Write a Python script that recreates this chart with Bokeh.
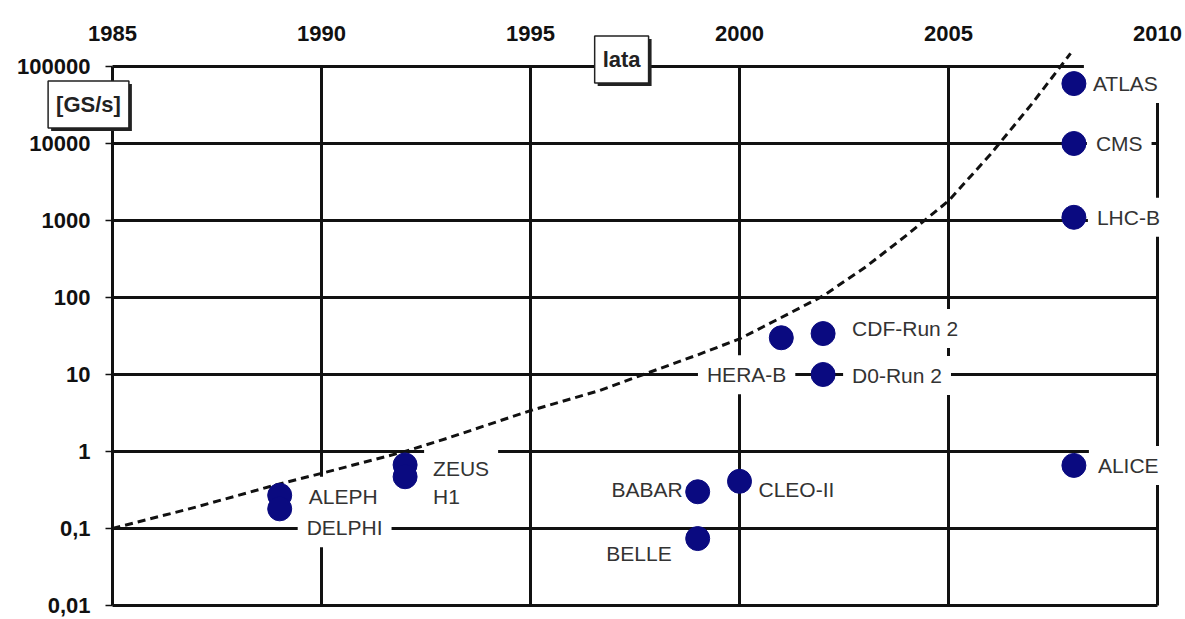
import math
from bokeh.plotting import figure
from bokeh.models import Range1d
from bokeh.core.properties import value
from bokeh.embed import file_html
from bokeh.resources import INLINE

# ---- data ----
experiments = ["ALEPH", "DELPHI", "ZEUS", "H1", "BABAR", "BELLE", "CLEO-II",
               "HERA-B", "CDF-Run 2", "D0-Run 2", "ATLAS", "CMS", "LHC-B", "ALICE"]
years = [1989, 1989, 1992, 1992, 1999, 1999, 2000, 2001, 2002, 2002, 2008, 2008, 2008, 2008]
rates = [0.27, 0.18, 0.67, 0.47, 0.30, 0.074, 0.41, 30, 34, 10, 60000, 10000, 1100, 0.66]

trend_years = [1985, 1987, 1989, 1990, 1992, 1993, 1995, 1996.66, 1997.7, 1999, 2000,
               2001, 2002, 2003, 2004, 2005, 2006, 2007, 2007.92]
trend_rates = [0.1, 0.19, 0.38, 0.52, 1.0, 1.48, 3.4, 6.2, 10, 18, 29,
               55, 105, 245, 645, 1800, 7200, 33000, 148000]

year_ticks = [1985, 1990, 1995, 2000, 2005, 2010]
year_tick_labels = ["1985", "1990", "1995", "2000", "2005", "2010"]
rate_ticks = [0.01, 0.1, 1, 10, 100, 1000, 10000, 100000]
rate_tick_labels = ["0,01", "0,1", "1", "10", "100", "1000", "10000", "100000"]

# ---- layout / styling ----
W, H = 1185, 619
PLOT_L, PLOT_R = 112, 1157      # pixel columns of first / last year tick
PLOT_T, PLOT_B = 66, 605        # pixel rows of top / bottom rate tick
PAD = 9
label_dx = [29, 27, 28, 28, -15, -26, 19, 5, 29, 29, 19, 22, 23, 24]
label_dy = [1, 19, 4, 20, -2, 15, 8, 37, -5, 1, 0, 0, 0, 0]
label_align = ["left", "left", "left", "left", "right", "right", "left",
               "right", "left", "left", "left", "left", "left", "left"]
label_dx = [d - PAD if a == "left" else d + PAD for d, a in zip(label_dx, label_align)]

FONT = "Liberation Sans"
INK = "#111111"

# ranges so that the ticks land on the same pixels as in the original figure
ppy = (PLOT_R - PLOT_L) / (year_ticks[-1] - year_ticks[0])
x0 = year_ticks[0] - PLOT_L / ppy
x1 = year_ticks[-1] + (W - PLOT_R) / ppy
lo, hi = math.log10(rate_ticks[0]), math.log10(rate_ticks[-1])
ppd = (PLOT_B - PLOT_T) / (hi - lo)
y0 = 10 ** (lo - (H - PLOT_B) / ppd)
y1 = 10 ** (hi + PLOT_T / ppd)

p = figure(width=W, height=H, y_axis_type="log",
           x_range=Range1d(x0, x1), y_range=Range1d(y0, y1),
           output_backend="svg", toolbar_location=None,
           min_border=0, min_border_left=0, min_border_right=0,
           min_border_top=0, min_border_bottom=0)
p.axis.visible = False
p.xgrid.visible = False
p.ygrid.visible = False
p.outline_line_color = None
p.background_fill_color = "white"
p.border_fill_color = "white"

# grid lines drawn from the tick arrays
p.segment(x0=year_ticks, x1=year_ticks, y0=[rate_ticks[0]] * len(year_ticks),
          y1=[rate_ticks[-1]] * len(year_ticks), line_color=INK, line_width=3)
p.segment(x0=[year_ticks[0]] * len(rate_ticks), x1=[year_ticks[-1]] * len(rate_ticks),
          y0=rate_ticks, y1=rate_ticks, line_color=INK, line_width=3)

# left tick marks
p.ray(x=[year_ticks[0]] * len(rate_ticks), y=rate_ticks, length=7,
      length_units="screen", angle=math.pi, line_color=INK, line_width=1.5)

# tick labels
p.text(x=[year_ticks[0]] * len(rate_ticks), y=rate_ticks, text=rate_tick_labels,
       x_offset=-22, text_align="right", text_baseline="middle",
       text_font=value(FONT), text_font_style="bold", text_font_size="22px", text_color=INK)
p.text(x=year_ticks, y=[rate_ticks[-1]] * len(year_ticks), text=year_tick_labels,
       y_offset=-33, text_align="center", text_baseline="middle",
       text_font=value(FONT), text_font_style="bold", text_font_size="22px", text_color=INK)

# experiment labels with white boxes hiding the grid behind them
p.text(x=years, y=rates, text=experiments, x_offset=label_dx, y_offset=label_dy,
       text_align=label_align, text_baseline="middle", text_font=value(FONT),
       text_font_size="21px", text_color="#333333",
       background_fill_color="white", padding=dict(left=PAD, right=PAD, top=8, bottom=8))

# trend curve
p.line(trend_years, trend_rates, line_color=INK, line_width=3, line_dash="8 5")

# experiments
p.scatter(x=years, y=rates, size=24, fill_color="#0a0a80", line_color="#0a0a80")

# boxed captions with shadows
def boxed(text, x, y, dx, dy):
    pad = dict(left=8, right=8, top=11, bottom=11)
    p.text(x=[x], y=[y], text=[text], x_offset=dx + 3, y_offset=dy + 3,
           text_align="center", text_baseline="middle", text_font=value(FONT),
           text_font_style="bold", text_font_size="22px", text_alpha=0.0,
           background_fill_color="#222222", padding=pad)
    p.text(x=[x], y=[y], text=[text], x_offset=dx, y_offset=dy,
           text_align="center", text_baseline="middle", text_font=value(FONT),
           text_font_style="bold", text_font_size="22px", text_color="#222222",
           background_fill_color="white", border_line_color="#222222",
           border_line_width=1.5, padding=pad)

boxed("lata", 1997.18, rate_ticks[-1], 0, -7)
boxed("[GS/s]", year_ticks[0], rate_ticks[-1], -24, 38)

open("out.html", "w").write(file_html(p, INLINE))
